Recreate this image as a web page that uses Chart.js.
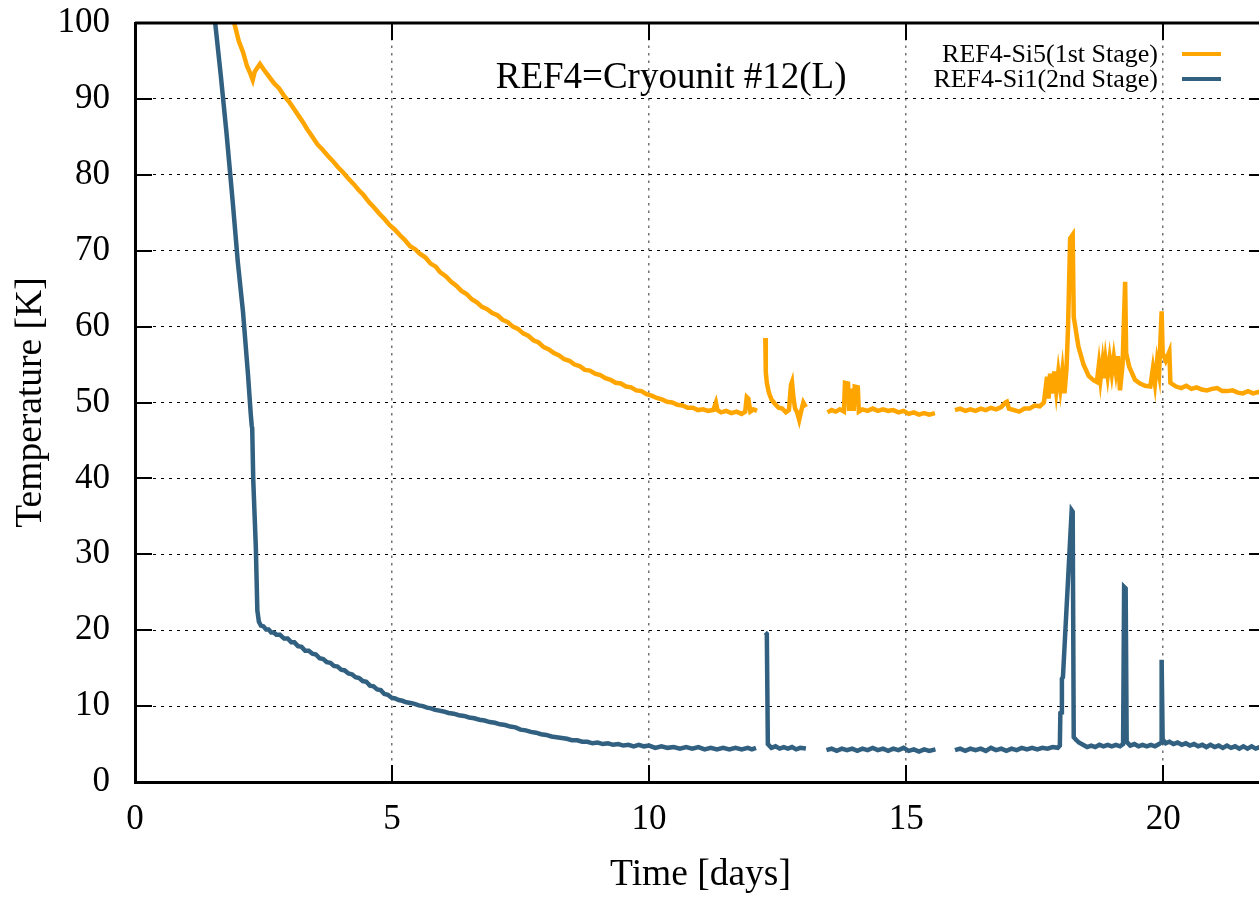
<!DOCTYPE html>
<html>
<head>
<meta charset="utf-8">
<title>REF4 Cryounit #12(L)</title>
<script src="https://cdn.jsdelivr.net/npm/chart.js"></script>
<style>
  html, body { margin: 0; padding: 0; background: #fff; overflow: hidden; }
  #wrap { width: 1267px; height: 898px; }
</style>
</head>
<body>
<div id="wrap"><canvas id="chart" width="1267" height="898"></canvas></div>
<script>
// cooldown log REF4 : 1st stage (Si5) & 2nd stage (Si1)

const FONT = "'Liberation Serif', 'DejaVu Serif', serif";

const chartTitle = 'REF4=Cryounit #12(L)';
const seriesLabels = ['REF4-Si5(1st Stage)', 'REF4-Si1(2nd Stage)'];
const xTitle = 'Time [days]';
const yTitle = 'Temperature [K]';
const xTicks = [0, 5, 10, 15, 20];
const yTicks = [0, 10, 20, 30, 40, 50, 60, 70, 80, 90, 100];

// [day, K] ; null = no data (gap in the log)
const si5Points = [
  [1.93, 100], [2.02, 97.6], [2.10, 96.2], [2.18, 94.3], [2.24, 93.4], [2.29, 92.5], [2.33, 93.6], [2.38, 94.1], [2.43, 94.6], [2.50, 93.9],
  [2.60, 93.0], [2.70, 92.1], [2.80, 91.4], [2.90, 90.4], [3.00, 89.6], [3.10, 88.6], [3.20, 87.6], [3.27, 86.9], [3.35, 86.0], [3.45, 85.0],
  [3.55, 84.0], [3.65, 83.3], [3.75, 82.5], [3.85, 81.8], [3.95, 81.0], [4.05, 80.3], [4.15, 79.5], [4.25, 78.8], [4.35, 78.0], [4.45, 77.3],
  [4.55, 76.4], [4.65, 75.7], [4.75, 74.9], [4.85, 74.2], [4.95, 73.4], [5.05, 72.8], [5.16, 72.0], [5.25, 71.4], [5.35, 70.6], [5.45, 70.2],
  [5.54, 69.6], [5.65, 69.1], [5.75, 68.3], [5.85, 67.9], [5.93, 67.2], [6.05, 66.6], [6.15, 65.9], [6.25, 65.4], [6.35, 64.7], [6.45, 64.3],
  [6.55, 63.6], [6.65, 63.2], [6.75, 62.6], [6.85, 62.3], [6.95, 61.8], [7.05, 61.5], [7.15, 60.9], [7.25, 60.6], [7.35, 60.0], [7.45, 59.7],
  [7.55, 59.1], [7.65, 58.8], [7.75, 58.2], [7.85, 57.9], [7.95, 57.3], [8.05, 57.0], [8.15, 56.5], [8.25, 56.2], [8.35, 55.7], [8.45, 55.5],
  [8.55, 55.0], [8.65, 54.8], [8.75, 54.3], [8.85, 54.2], [8.95, 53.8], [9.05, 53.6], [9.15, 53.2], [9.25, 53.0], [9.35, 52.6], [9.45, 52.5],
  [9.55, 52.1], [9.65, 52.0], [9.75, 51.6], [9.85, 51.5], [9.95, 51.1], [10.05, 50.9], [10.15, 50.6], [10.25, 50.4], [10.35, 50.1], [10.45, 50.0],
  [10.55, 49.7], [10.65, 49.6], [10.75, 49.3], [10.85, 49.3], [10.95, 49.0], [11.05, 49.1], [11.15, 48.9], [11.25, 49.0], [11.30, 50.0], [11.33, 49.0],
  [11.40, 48.7], [11.50, 48.9], [11.60, 48.6], [11.70, 48.8], [11.80, 48.5], [11.87, 48.8], [11.90, 50.7], [11.93, 50.5], [11.97, 48.8], [12.03, 49.1],
  [12.10, 48.9], [12.18, null],
  [12.26, 58.5], [12.27, 54.0], [12.29, 52.6], [12.33, 51.3], [12.38, 50.4], [12.45, 49.8], [12.52, 49.3], [12.59, 49.2], [12.66, 48.7], [12.72, 49.0],
  [12.76, 52.3], [12.78, 52.7], [12.81, 50.5], [12.84, 49.2], [12.88, 48.7], [12.92, 47.7], [12.96, 48.9], [13.00, 50.0], [13.05, 49.4], [13.20, null],
  [13.47, 48.7], [13.55, 49.0], [13.63, 48.8], [13.71, 49.1], [13.79, 48.8], [13.81, 52.6], [13.87, 52.5], [13.89, 48.9], [13.91, 51.5], [13.96, 51.6],
  [13.98, 48.9], [14.00, 52.1], [14.06, 52.0], [14.08, 48.8], [14.15, 49.1], [14.25, 48.9], [14.35, 49.2], [14.45, 48.9], [14.55, 49.1], [14.65, 48.9],
  [14.75, 49.0], [14.85, 48.7], [14.95, 48.9], [15.05, 48.5], [15.15, 48.7], [15.25, 48.4], [15.35, 48.6], [15.45, 48.4], [15.56, 48.6], [15.75, null],
  [15.95, 49.0], [16.05, 49.2], [16.15, 48.9], [16.25, 49.1], [16.35, 48.9], [16.45, 49.2], [16.55, 49.0], [16.65, 49.3], [16.75, 49.1], [16.85, 49.4],
  [16.93, 50.0], [16.96, 50.1], [17.00, 49.2], [17.10, 49.0], [17.20, 48.8], [17.30, 49.2], [17.40, 49.2], [17.50, 49.6], [17.60, 49.5], [17.68, 50.0],
  [17.74, 53.4], [17.77, 50.5], [17.80, 53.8], [17.84, 51.2], [17.88, 54.1], [17.92, 51.5], [17.96, 54.0], [18.00, 51.8], [18.04, 54.2], [18.08, 51.2],
  [18.12, 54.5], [18.15, 60.0], [18.19, 71.6], [18.24, 72.1], [18.26, 61.3], [18.35, 57.4], [18.45, 55.0], [18.55, 53.5], [18.65, 52.9], [18.71, 52.7],
  [18.75, 55.0], [18.78, 53.0], [18.82, 55.3], [18.85, 53.2], [18.88, 55.6], [18.92, 53.5], [18.96, 55.8], [19.00, 53.8], [19.04, 56.0], [19.08, 54.0],
  [19.12, 56.1], [19.16, 51.6], [19.21, 55.0], [19.26, 65.9], [19.28, 56.5], [19.34, 54.7], [19.45, 53.0], [19.55, 52.5], [19.65, 52.2], [19.75, 52.1],
  [19.80, 54.5], [19.84, 52.5], [19.88, 55.4], [19.92, 53.8], [19.97, 62.0], [19.99, 56.5], [20.05, 55.5], [20.12, 56.7], [20.14, 52.6], [20.25, 52.1],
  [20.35, 51.9], [20.45, 52.2], [20.55, 51.8], [20.65, 52.0], [20.75, 51.7], [20.85, 51.6], [20.95, 51.8], [21.05, 51.9], [21.15, 51.5], [21.25, 51.5],
  [21.35, 51.6], [21.45, 51.3], [21.55, 51.2], [21.65, 51.5], [21.75, 51.2], [21.87, 51.4], [22.00, 51.3]
];

const si1Points = [
  [1.56, 100], [1.67, 93.0], [1.78, 85.5], [1.90, 76.5], [2.00, 68.5], [2.10, 62.0], [2.20, 53.5], [2.25, 48.6], [2.27, 47.0], [2.28, 46.6],
  [2.30, 39.8], [2.35, 31.0], [2.38, 22.6], [2.41, 21.1], [2.45, 20.6], [2.50, 20.5], [2.55, 20.1], [2.60, 20.1], [2.65, 19.7], [2.70, 19.7],
  [2.75, 19.4], [2.82, 19.4], [2.90, 18.9], [2.97, 18.9], [3.04, 18.4], [3.10, 18.4], [3.17, 17.9], [3.24, 17.8], [3.31, 17.3], [3.38, 17.3],
  [3.45, 16.9], [3.52, 16.8], [3.59, 16.3], [3.66, 16.2], [3.73, 15.8], [3.80, 15.7], [3.87, 15.3], [3.94, 15.2], [4.01, 14.8], [4.08, 14.7],
  [4.15, 14.3], [4.22, 14.2], [4.29, 13.8], [4.36, 13.7], [4.43, 13.3], [4.50, 13.2], [4.57, 12.7], [4.64, 12.6], [4.71, 12.2], [4.78, 12.1],
  [4.85, 11.6], [4.92, 11.5], [4.99, 11.1], [5.06, 11.0], [5.13, 10.8], [5.20, 10.7], [5.28, 10.5], [5.36, 10.4], [5.44, 10.3], [5.52, 10.1],
  [5.60, 10.0], [5.68, 9.8], [5.76, 9.7], [5.84, 9.5], [5.92, 9.4], [6.00, 9.3], [6.10, 9.1], [6.20, 9.0], [6.30, 8.8], [6.40, 8.7],
  [6.50, 8.5], [6.60, 8.4], [6.70, 8.2], [6.80, 8.1], [6.90, 7.9], [7.00, 7.8], [7.10, 7.6], [7.20, 7.5], [7.30, 7.3], [7.40, 7.2],
  [7.50, 6.9], [7.60, 6.8], [7.70, 6.6], [7.80, 6.5], [7.90, 6.3], [8.00, 6.2], [8.10, 6.0], [8.20, 5.9], [8.30, 5.8], [8.40, 5.7],
  [8.50, 5.5], [8.60, 5.5], [8.70, 5.3], [8.80, 5.3], [8.90, 5.1], [9.00, 5.2], [9.10, 5.0], [9.20, 5.1], [9.30, 4.9], [9.40, 5.0],
  [9.50, 4.8], [9.60, 4.9], [9.70, 4.7], [9.80, 4.9], [9.90, 4.7], [10.00, 4.8], [10.12, 4.5], [10.24, 4.7], [10.36, 4.5], [10.48, 4.6],
  [10.60, 4.4], [10.72, 4.6], [10.84, 4.4], [10.96, 4.6], [11.08, 4.3], [11.20, 4.5], [11.32, 4.3], [11.44, 4.5], [11.56, 4.3], [11.68, 4.5],
  [11.80, 4.3], [11.92, 4.5], [12.00, 4.3], [12.08, 4.5], [12.17, null],
  [12.26, 19.7], [12.29, 19.5], [12.31, 5.0], [12.38, 4.5], [12.46, 4.7], [12.54, 4.4], [12.62, 4.6], [12.70, 4.4], [12.78, 4.6], [12.86, 4.3],
  [12.94, 4.5], [13.05, 4.4], [13.20, null],
  [13.45, 4.2], [13.55, 4.4], [13.65, 4.1], [13.75, 4.4], [13.85, 4.2], [13.95, 4.4], [14.05, 4.1], [14.15, 4.4], [14.25, 4.2], [14.35, 4.5],
  [14.45, 4.2], [14.55, 4.4], [14.65, 4.1], [14.75, 4.4], [14.85, 4.2], [14.95, 4.5], [15.05, 4.1], [15.15, 4.3], [15.25, 4.0], [15.35, 4.3],
  [15.45, 4.1], [15.57, 4.3], [15.75, null],
  [15.95, 4.2], [16.05, 4.4], [16.15, 4.1], [16.25, 4.4], [16.35, 4.2], [16.45, 4.4], [16.55, 4.1], [16.65, 4.5], [16.75, 4.2], [16.85, 4.4],
  [16.95, 4.1], [17.05, 4.4], [17.15, 4.2], [17.25, 4.5], [17.35, 4.3], [17.45, 4.5], [17.55, 4.3], [17.65, 4.5], [17.75, 4.4], [17.85, 4.6],
  [17.95, 4.5], [17.99, 4.8], [18.00, 9.1], [18.02, 9.2], [18.03, 13.6], [18.05, 13.8], [18.22, 35.8], [18.24, 35.6], [18.26, 5.9], [18.30, 5.6],
  [18.36, 5.2], [18.44, 4.9], [18.52, 4.6], [18.60, 4.8], [18.68, 4.6], [18.76, 4.9], [18.84, 4.7], [18.92, 4.9], [19.00, 4.7], [19.08, 4.9],
  [19.16, 4.7], [19.22, 5.0], [19.24, 25.7], [19.27, 25.5], [19.29, 5.3], [19.36, 4.8], [19.44, 5.0], [19.52, 4.7], [19.60, 4.9], [19.68, 4.7],
  [19.76, 4.9], [19.84, 4.7], [19.92, 5.0], [19.96, 5.2], [19.97, 16.1], [19.99, 5.6], [20.05, 5.1], [20.12, 5.3], [20.20, 5.0], [20.28, 5.2],
  [20.36, 4.9], [20.44, 5.1], [20.52, 4.8], [20.60, 5.0], [20.68, 4.7], [20.76, 4.9], [20.84, 4.6], [20.92, 4.9], [21.00, 4.6], [21.08, 4.8],
  [21.16, 4.5], [21.24, 4.8], [21.32, 4.5], [21.40, 4.7], [21.48, 4.4], [21.56, 4.7], [21.64, 4.4], [21.72, 4.7], [21.80, 4.4], [21.88, 4.6],
  [22.00, 4.5]
];

const colors = ['#FFA500', '#316080'];

const toXY = (pts) => pts.map(([x, y]) => ({ x, y }));

/* === frame, inward ticks, title & key (gnuplot look) === */
const framePlugin = {
  id: 'frame',
  afterDraw(chart) {
    const { ctx, chartArea: a } = chart;
    const xs = chart.scales.x;
    const ys = chart.scales.y;
    const tl = 17;

    ctx.save();
    ctx.strokeStyle = '#000';
    ctx.lineWidth = 3;
    ctx.beginPath();
    ctx.moveTo(a.left, a.top); ctx.lineTo(a.right, a.top); ctx.lineTo(a.right, a.bottom);
    ctx.stroke();

    ctx.lineWidth = 2;
    ctx.beginPath();
    xTicks.forEach((v) => {
      const px = Math.round(xs.getPixelForValue(v));
      ctx.moveTo(px, a.bottom); ctx.lineTo(px, a.bottom - tl);
      ctx.moveTo(px, a.top); ctx.lineTo(px, a.top + tl);
    });
    yTicks.forEach((v) => {
      const py = Math.round(ys.getPixelForValue(v));
      ctx.moveTo(a.left, py); ctx.lineTo(a.left + tl, py);
      ctx.moveTo(a.right, py); ctx.lineTo(a.right - tl, py);
    });
    ctx.stroke();

    // title inside the plot
    ctx.fillStyle = '#000';
    ctx.font = `37px ${FONT}`;
    ctx.textAlign = 'center';
    ctx.textBaseline = 'middle';
    ctx.fillText(chartTitle, a.left + (a.right - a.left) * 0.474, a.top + 55);

    // key, top right
    ctx.font = `26px ${FONT}`;
    ctx.textAlign = 'right';
    chart.data.datasets.forEach((ds, i) => {
      const yy = a.top + 32 + i * 25;
      ctx.fillStyle = '#000';
      ctx.fillText(ds.label, a.right - 108, yy);
      ctx.strokeStyle = ds.borderColor;
      ctx.lineWidth = 4;
      ctx.beginPath();
      ctx.moveTo(a.right - 84, yy - 1); ctx.lineTo(a.right - 45, yy - 1);
      ctx.stroke();
    });
    ctx.restore();
  }
};

new Chart(document.getElementById('chart'), {
  type: 'line',
  data: {
    datasets: [
      {
        label: seriesLabels[0],
        data: toXY(si5Points),
        borderColor: colors[0],
        backgroundColor: colors[0],
        borderWidth: 4.5,
        pointRadius: 0,
        spanGaps: false,
        order: 1
      },
      {
        label: seriesLabels[1],
        data: toXY(si1Points),
        borderColor: colors[1],
        backgroundColor: colors[1],
        borderWidth: 4.5,
        pointRadius: 0,
        spanGaps: false,
        order: 0
      }
    ]
  },
  options: {
    responsive: false,
    animation: false,
    layout: { padding: { top: 23, right: 1, left: 0, bottom: 0 } },
    plugins: {
      legend: { display: false },
      title: { display: false },
      tooltip: { enabled: false }
    },
    scales: {
      x: {
        type: 'linear',
        min: 0,
        max: 22,
        afterFit: (s) => { s.height = 116; s.paddingLeft = 0; s.paddingRight = 0; },
        afterBuildTicks: (s) => { s.ticks = xTicks.map((v) => ({ value: v })); },
        ticks: { color: '#000', font: { family: FONT, size: 35 }, padding: 17, maxRotation: 0 },
        grid: { color: 'rgba(0,0,0,0.55)', lineWidth: 1.5, drawTicks: false },
        border: { display: true, color: '#000', width: 3, dash: [2.5, 5] },
        title: { display: true, text: xTitle, color: '#000', font: { family: FONT, size: 37.5 }, padding: { top: 0, bottom: 0 } }
      },
      y: {
        min: 0,
        max: 100,
        afterFit: (s) => { s.width = 135; s.paddingTop = 0; s.paddingBottom = 0; },
        afterBuildTicks: (s) => { s.ticks = yTicks.map((v) => ({ value: v })); },
        ticks: { color: '#000', font: { family: FONT, size: 35 }, padding: 25 },
        grid: { color: '#000', lineWidth: 1, drawTicks: false },
        border: { display: true, color: '#000', width: 3, dash: [3, 5] },
        title: { display: true, text: yTitle, color: '#000', font: { family: FONT, size: 37.5 }, padding: { top: 9, bottom: 0 } }
      }
    }
  },
  plugins: [framePlugin]
});
</script>
</body>
</html>
